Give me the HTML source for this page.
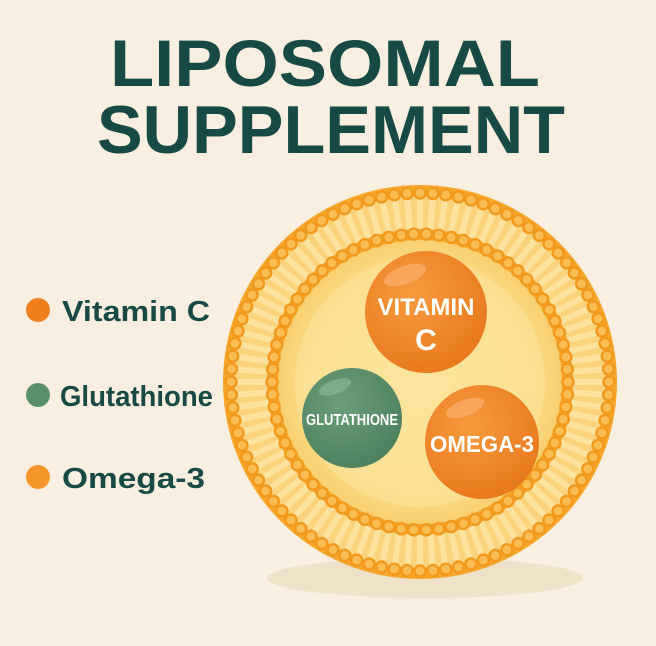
<!DOCTYPE html>
<html><head><meta charset="utf-8"><style>
html,body{margin:0;padding:0;background:#f8efe0;}
svg{display:block}
</style></head><body>
<svg id="s" width="656" height="646" viewBox="0 0 656 646" xmlns="http://www.w3.org/2000/svg">
<defs>
<radialGradient id="core" cx="0.5" cy="0.5" r="0.5">
<stop offset="0" stop-color="#fbe49a"/><stop offset="0.8" stop-color="#fbdb86"/><stop offset="1" stop-color="#f9d070"/>
</radialGradient>
<radialGradient id="org" cx="0.4" cy="0.35" r="0.7">
<stop offset="0" stop-color="#f79a3c"/><stop offset="1" stop-color="#e8781c"/>
</radialGradient>
<radialGradient id="grn" cx="0.4" cy="0.35" r="0.7">
<stop offset="0" stop-color="#6c9e78"/><stop offset="1" stop-color="#4c7f5c"/>
</radialGradient>
</defs>
<rect width="656" height="646" fill="#f8efe0"/>
<ellipse cx="425" cy="578" rx="158" ry="20" fill="#efe2c8"/>
<g font-family="Liberation Sans, sans-serif" font-weight="bold" fill="#174a44" text-anchor="middle">
<text x="325" y="86" font-size="66" textLength="430" lengthAdjust="spacingAndGlyphs">LIPOSOMAL</text>
<text x="331" y="153" font-size="68" textLength="468" lengthAdjust="spacingAndGlyphs">SUPPLEMENT</text>
</g>
<g id="lip">
<circle cx="420" cy="382" r="197" fill="#f6a62a"/>
<circle cx="420" cy="382" r="186" fill="#fbd37c"/>
<g id="tails"></g>
<circle cx="420" cy="382" r="153" fill="#f6a62a"/>
<circle cx="420" cy="382" r="142" fill="url(#core)"/>
<circle cx="420" cy="382" r="125" fill="#fde6a2" opacity="0.5"/>
<g id="beads"></g>
</g>
<circle cx="426" cy="312" r="61" fill="url(#org)"/>
<ellipse cx="405" cy="275" rx="22" ry="9" fill="#fbb676" opacity="0.6" transform="rotate(-20 405 275)"/>
<circle cx="352" cy="418" r="50" fill="url(#grn)"/>
<ellipse cx="335" cy="387" rx="17" ry="7" fill="#8fbb98" opacity="0.6" transform="rotate(-20 335 387)"/>
<circle cx="482" cy="442" r="57" fill="url(#org)"/>
<ellipse cx="465" cy="408" rx="20" ry="8" fill="#fbb676" opacity="0.6" transform="rotate(-20 465 408)"/>
<g font-family="Liberation Sans, sans-serif" font-weight="bold" fill="#fff" text-anchor="middle">
<text x="426" y="315" font-size="24">VITAMIN</text>
<text x="426" y="350" font-size="30">C</text>
<text x="352" y="425" font-size="16" textLength="92" lengthAdjust="spacingAndGlyphs">GLUTATHIONE</text>
<text x="482" y="452" font-size="23" textLength="104" lengthAdjust="spacingAndGlyphs">OMEGA-3</text>
</g>
<circle cx="38" cy="310" r="12" fill="#f0801e"/>
<circle cx="38" cy="395" r="12" fill="#5a8f68"/>
<circle cx="38" cy="477" r="12" fill="#f5962a"/>
<g font-family="Liberation Sans, sans-serif" font-weight="bold" fill="#174a44" font-size="29">
<text x="62" y="321" textLength="148" lengthAdjust="spacingAndGlyphs">Vitamin C</text>
<text x="60" y="406" textLength="153" lengthAdjust="spacingAndGlyphs">Glutathione</text>
<text x="62" y="488" textLength="143" lengthAdjust="spacingAndGlyphs">Omega-3</text>
</g>
</svg>
<script>
var ns="http://www.w3.org/2000/svg",cx=420,cy=382;
var b=document.getElementById("beads"),t=document.getElementById("tails");
function c(p,x,y,r,f,s){var e=document.createElementNS(ns,"circle");e.setAttribute("cx",x);e.setAttribute("cy",y);e.setAttribute("r",r);e.setAttribute("fill",f);if(s){e.setAttribute("stroke",s);e.setAttribute("stroke-width","2.5");}p.appendChild(e);}
var n=92;
for(var i=0;i<n;i++){var a=i/n*2*Math.PI,co=Math.cos(a),si=Math.sin(a);
var l=document.createElementNS(ns,"line");
l.setAttribute("x1",cx+co*152);l.setAttribute("y1",cy+si*152);l.setAttribute("x2",cx+co*184);l.setAttribute("y2",cy+si*184);
l.setAttribute("stroke","#fde3a0");l.setAttribute("stroke-width","6");t.appendChild(l);
c(b,cx+co*189,cy+si*189,5.5,"#fbbe55","#f29a1e");}
var m=74;
for(var i=0;i<m;i++){var a=i/m*2*Math.PI;c(b,cx+Math.cos(a)*148,cy+Math.sin(a)*148,5.5,"#fbbe55","#f29a1e");}
</script>
</body></html>
